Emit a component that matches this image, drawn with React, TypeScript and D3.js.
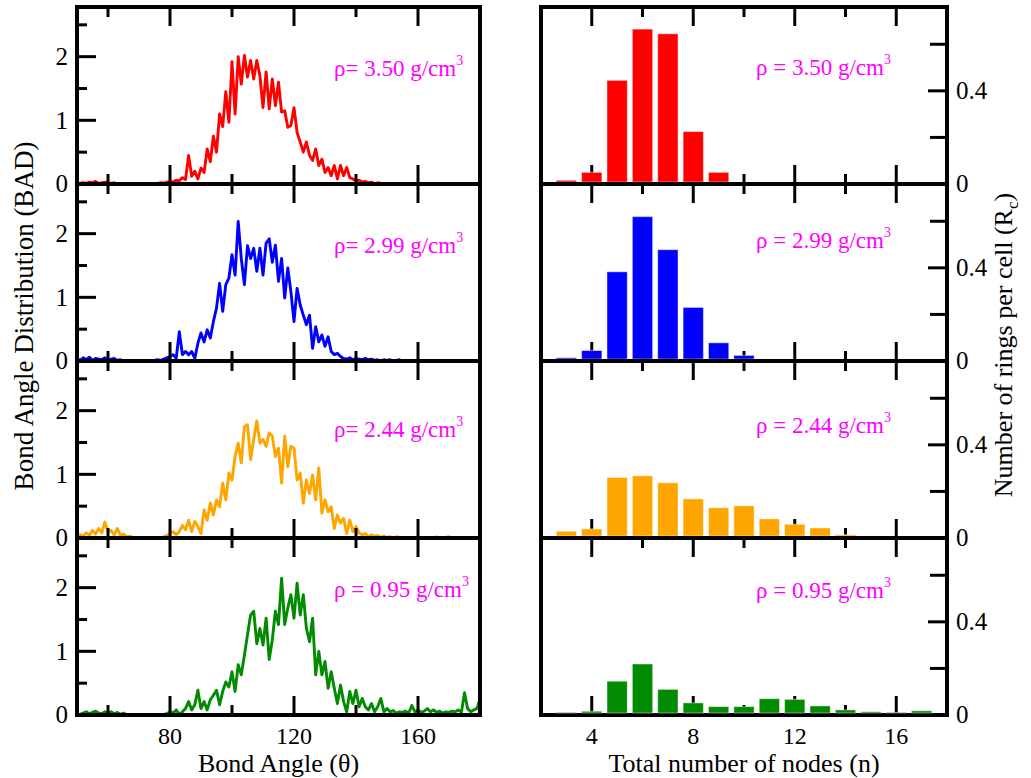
import React from "react";
import * as d3 from "d3";

// ---------- DATA ----------
const ANGLE_START = 50; // degrees, 1-degree step
const BAD_350 = [
  0, 0.01, 0.02, 0.01, 0.03, 0.02, 0.04, 0.01, 0.02, 0.03,
  0.02, 0.01, 0.02, 0, 0.01, 0, 0, 0, 0, 0,
  0, 0, 0, 0.01, 0, 0, 0.01, 0.02, 0.01, 0.03,
  0.04, 0.03, 0.06, 0.05, 0.1, 0.07, 0.45, 0.12, 0.2, 0.08,
  0.25, 0.18, 0.55, 0.35, 0.75, 0.5, 1.1, 0.9, 1.45, 0.97,
  1.92, 1.1, 2.0, 1.57, 2.02, 1.68, 1.94, 1.65, 1.94, 1.7,
  1.2, 1.76, 1.18, 1.65, 1.23, 1.6, 1.13, 1.15, 0.89, 0.92,
  1.2, 0.81, 0.66, 0.5, 0.66, 0.45, 0.37, 0.55, 0.29, 0.39,
  0.18, 0.26, 0.13, 0.29, 0.08, 0.29, 0.13, 0.26, 0.1, 0.08,
  0.05, 0.06, 0.03, 0.04, 0.02, 0.03, 0, 0.02, 0.01, 0,
  0.01, 0, 0.01, 0, 0, 0, 0, 0, 0, 0,
  0, 0, 0, 0, 0, 0, 0, 0, 0, 0,
  0, 0, 0, 0, 0, 0, 0, 0, 0, 0, 0,
];
const BAD_299 = [
  0.04, 0.01, 0.05, 0.02, 0.06, 0.01, 0.04, 0.03, 0.02, 0.05,
  0.01, 0.03, 0.04, 0.01, 0.02, 0, 0, 0.01, 0, 0,
  0, 0.01, 0, 0, 0, 0.01, 0.02, 0.01, 0.03, 0.05,
  0.07, 0.1, 0.04, 0.46, 0.1, 0.15, 0.1, 0.15, 0.04, 0.28,
  0.44, 0.3, 0.49, 0.36, 0.62, 0.83, 1.22, 0.78, 1.2, 1.3,
  1.67, 1.35, 2.19, 1.61, 1.2, 1.81, 1.61, 1.77, 1.41, 1.77,
  1.35, 1.85, 1.92, 1.55, 1.82, 1.25, 1.61, 0.99, 1.46, 1.09,
  0.62, 1.14, 0.88, 0.72, 0.57, 0.72, 0.2, 0.54, 0.3, 0.41,
  0.23, 0.38, 0.15, 0.1, 0.12, 0.07, 0.04, 0.03, 0.05, 0.02,
  0.04, 0.03, 0.02, 0.04, 0.02, 0.03, 0.01, 0.02, 0, 0.02,
  0.01, 0.02, 0, 0.01, 0.02, 0, 0, 0.01, 0, 0,
  0, 0, 0, 0, 0, 0, 0, 0, 0, 0,
  0, 0, 0, 0, 0, 0, 0, 0, 0, 0, 0,
];
const BAD_244 = [
  0.02, 0.05, 0.03, 0.08, 0.04, 0.12, 0.06, 0.15, 0.08, 0.25,
  0.1, 0.12, 0.05, 0.15, 0.04, 0.06, 0.02, 0.03, 0.01, 0,
  0, 0, 0, 0.01, 0, 0, 0, 0, 0.02, 0.04,
  0.07, 0.1, 0.05, 0.1, 0.2, 0.13, 0.28, 0.1, 0.26, 0.18,
  0.07, 0.44, 0.28, 0.55, 0.36, 0.6, 0.49, 0.86, 0.6, 1.02,
  0.91, 1.28, 1.49, 1.18, 1.75, 1.78, 1.23, 1.55, 1.84, 1.49,
  1.55, 1.44, 1.65, 1.6, 1.28, 1.41, 0.86, 1.6, 1.12, 1.44,
  1.41, 0.91, 1.02, 0.55, 0.91, 0.7, 0.99, 0.6, 1.1, 0.39,
  0.6, 0.41, 0.49, 0.15, 0.36, 0.23, 0.31, 0.07, 0.28, 0.1,
  0.18, 0.08, 0.05, 0.07, 0.02, 0.05, 0.03, 0.04, 0.01, 0.03,
  0.01, 0.02, 0, 0.02, 0.01, 0, 0, 0, 0.01, 0,
  0, 0, 0, 0, 0, 0, 0.02, 0, 0, 0.01,
  0.02, 0, 0, 0, 0, 0, 0, 0, 0, 0, 0,
];
const BAD_095 = [
  0, 0.01, 0.03, 0.05, 0.02, 0.04, 0.06, 0.03, 0.02, 0.05,
  0.03, 0.05, 0.02, 0.04, 0.01, 0.03, 0, 0, 0, 0,
  0, 0, 0, 0, 0, 0, 0, 0, 0.01, 0.02,
  0.05, 0.03, 0.08, 0.01, 0.05, 0.1, 0.21, 0.08, 0.16, 0.39,
  0.1, 0.21, 0.08, 0.24, 0.31, 0.39, 0.16, 0.37, 0.52, 0.44,
  0.68, 0.37, 0.79, 0.63, 0.94, 1.26, 1.57, 1.63, 1.12, 1.36,
  1.1, 1.52, 0.87, 1.18, 1.63, 1.42, 2.15, 1.42, 1.68, 1.89,
  1.52, 2.07, 1.57, 1.89, 1.36, 1.15, 1.52, 0.63, 1.0, 0.63,
  0.84, 0.42, 0.68, 0.42, 0.18, 0.47, 0.21, 0.05, 0.37, 0.18,
  0.39, 0.13, 0.26, 0.13, 0.08, 0.18, 0.05, 0.13, 0.26, 0.05,
  0.1, 0.05, 0.07, 0.03, 0.05, 0.04, 0.06, 0.03, 0.15, 0.05,
  0.08, 0.04, 0.06, 0.1, 0.05, 0.08, 0.04, 0.06, 0.03, 0.05,
  0.04, 0.06, 0.05, 0.08, 0.04, 0.35, 0.1, 0.05, 0.08, 0.1, 0.25,
];

const NODES = [3, 4, 5, 6, 7, 8, 9, 10, 11, 12, 13, 14, 15, 16, 17];
const RINGS_350 = [0.016, 0.05, 0.445, 0.665, 0.645, 0.225, 0.05, 0, 0, 0, 0, 0, 0, 0, 0];
const RINGS_299 = [0.014, 0.045, 0.383, 0.62, 0.478, 0.23, 0.078, 0.024, 0.006, 0.003, 0.002, 0.002, 0, 0, 0];
const RINGS_244 = [0.029, 0.039, 0.26, 0.267, 0.237, 0.168, 0.13, 0.138, 0.082, 0.059, 0.043, 0.014, 0.009, 0.004, 0.004];
const RINGS_095 = [0.011, 0.016, 0.145, 0.219, 0.11, 0.052, 0.036, 0.036, 0.07, 0.067, 0.039, 0.022, 0.014, 0.011, 0.018];

const DENSITIES = ["3.50", "2.99", "2.44", "0.95"];
const LEFT_LABEL_PREFIX = ["ρ= ", "ρ= ", "ρ= ", "ρ = "];
const COLORS = ["#ff0000", "#0000ff", "#ffa500", "#008b00"];

const BAD_SERIES = [BAD_350, BAD_299, BAD_244, BAD_095];
const RING_SERIES = [RINGS_350, RINGS_299, RINGS_244, RINGS_095];

const LEFT_Y_MAJOR = [0, 1, 2];
const LEFT_Y_MINOR = [0.5, 1.5, 2.5];
const LEFT_X_MAJOR = [80, 120, 160];
const LEFT_X_MINOR = [60, 100, 140];
const RIGHT_Y_MAJOR = [0, 0.4];
const RIGHT_Y_MINOR = [0.2, 0.6];
const RIGHT_X_MAJOR = [4, 8, 12, 16];
const RIGHT_X_MINOR = [6, 10, 14];

// ---------- LAYOUT ----------
const W = 1031;
const H = 778;
const TOP = 7;
const PH = 177;
const LX0 = 77, LX1 = 480, RX0 = 541, RX1 = 947;
const LEFT_LABEL_DY = [69, 69, 76, 59];
const RIGHT_LABEL_DY = [68, 64, 72, 60];
const FONT = "'Liberation Serif', 'Times New Roman', serif";
const MAJ = 19, MIN = 10;

export default function App() {
  const lx = d3.scaleLinear().domain([50, 180]).range([LX0, LX1]);
  const rx = d3.scaleLinear().domain([2, 18]).range([RX0, RX1]);

  const panels = BAD_SERIES.map((bad, i) => {
    const y0 = TOP + i * PH;
    const y1 = y0 + PH;
    const ly = d3.scaleLinear().domain([0, 2.78]).range([y1, y0]);
    const ry = d3.scaleLinear().domain([0, 0.76]).range([y1, y0]);
    const pts = bad.map((v, k) => [ANGLE_START + k, v] as [number, number]);
    const line = d3
      .line<[number, number]>()
      .x((d) => lx(d[0]))
      .y((d) => ly(d[1]));
    const rings = RING_SERIES[i];
    const color = COLORS[i];
    return (
      <g key={i}>
        <defs>
          <clipPath id={`clipL${i}`}>
            <rect x={LX0} y={y0} width={LX1 - LX0} height={PH} />
          </clipPath>
        </defs>
        {/* left: line */}
        <path
          d={line(pts) || ""}
          fill="none"
          stroke={color}
          strokeWidth={2.9}
          strokeLinejoin="round"
          clipPath={`url(#clipL${i})`}
        />
        {/* left ticks */}
        <g stroke="#000" strokeWidth={3}>
          {LEFT_X_MAJOR.map((t) => (
            <g key={"lxM" + t}>
              <line x1={lx(t)} x2={lx(t)} y1={y1} y2={y1 - MAJ} />
              <line x1={lx(t)} x2={lx(t)} y1={y0} y2={y0 + MAJ} />
            </g>
          ))}
          {LEFT_X_MINOR.map((t) => (
            <g key={"lxm" + t}>
              <line x1={lx(t)} x2={lx(t)} y1={y1} y2={y1 - MIN} />
              <line x1={lx(t)} x2={lx(t)} y1={y0} y2={y0 + MIN} />
            </g>
          ))}
          {LEFT_Y_MAJOR.map((t) => (
            <line key={"lyM" + t} x1={LX0} x2={LX0 + MAJ} y1={ly(t)} y2={ly(t)} />
          ))}
          {LEFT_Y_MINOR.map((t) => (
            <line key={"lym" + t} x1={LX0} x2={LX0 + MIN} y1={ly(t)} y2={ly(t)} />
          ))}
          {RIGHT_X_MAJOR.map((t) => (
            <g key={"rxM" + t}>
              <line x1={rx(t)} x2={rx(t)} y1={y1} y2={y1 - MAJ} />
              <line x1={rx(t)} x2={rx(t)} y1={y0} y2={y0 + MAJ} />
            </g>
          ))}
          {RIGHT_X_MINOR.map((t) => (
            <g key={"rxm" + t}>
              <line x1={rx(t)} x2={rx(t)} y1={y1} y2={y1 - MIN} />
              <line x1={rx(t)} x2={rx(t)} y1={y0} y2={y0 + MIN} />
            </g>
          ))}
          {RIGHT_Y_MAJOR.map((t) => (
            <line key={"ryM" + t} x1={RX1} x2={RX1 - MAJ} y1={ry(t)} y2={ry(t)} />
          ))}
          {RIGHT_Y_MINOR.map((t) => (
            <line key={"rym" + t} x1={RX1} x2={RX1 - 17} y1={ry(t)} y2={ry(t)} />
          ))}
        </g>
        {/* frames */}
        <rect x={LX0} y={y0} width={LX1 - LX0} height={PH} fill="none" stroke="#000" strokeWidth={4} />
        <rect x={RX0} y={y0} width={RX1 - RX0} height={PH} fill="none" stroke="#000" strokeWidth={4} />
        {/* right: bars (drawn over the frame's inner half like the reference) */}
        {NODES.map((n, k) =>
          rings[k] > 0 ? (
            <rect
              key={n}
              x={rx(n - 0.4)}
              y={ry(rings[k])}
              width={rx(n + 0.4) - rx(n - 0.4)}
              height={ry(0) - 2 - ry(rings[k]) > 0.5 ? ry(0) - 2 - ry(rings[k]) : 0.8}
              fill={color}
              stroke="rgba(255,255,255,0.45)"
              strokeWidth={1}
            />
          ) : null
        )}
        {/* tick labels */}
        {LEFT_Y_MAJOR.map((t) => (
          <text key={"lyl" + t} x={68} y={ly(t)} dy="0.33em" textAnchor="end" fontSize={25}>
            {d3.format("d")(t)}
          </text>
        ))}
        {RIGHT_Y_MAJOR.map((t) => (
          <text key={"ryl" + t} x={956} y={ry(t)} dy="0.33em" textAnchor="start" fontSize={25}>
            {t === 0 ? "0" : d3.format(".1f")(t)}
          </text>
        ))}
        {/* density labels */}
        <text x={334} y={y0 + LEFT_LABEL_DY[i]} fill="#ff00ff" fontSize={23}>
          {LEFT_LABEL_PREFIX[i] + DENSITIES[i] + " g/cm"}
          <tspan dy={-11} fontSize={14}>3</tspan>
        </text>
        <text x={756} y={y0 + RIGHT_LABEL_DY[i]} fill="#ff00ff" fontSize={23}>
          {"ρ = " + DENSITIES[i] + " g/cm"}
          <tspan dy={-11} fontSize={14}>3</tspan>
        </text>
      </g>
    );
  });

  const bottom = TOP + 4 * PH;

  return (
    <svg
      width={W}
      height={H}
      viewBox={`0 0 ${W} ${H}`}
      style={{ position: "absolute", left: 0, top: 0, background: "#fff" }}
      fontFamily={FONT}
    >
      <rect x={0} y={0} width={W} height={H} fill="#fff" />
      {panels}
      {LEFT_X_MAJOR.map((t) => (
        <text key={"lxl" + t} x={lx(t)} y={bottom + 29} textAnchor="middle" fontSize={24}>
          {t}
        </text>
      ))}
      {RIGHT_X_MAJOR.map((t) => (
        <text key={"rxl" + t} x={rx(t)} y={bottom + 29} textAnchor="middle" fontSize={24}>
          {t}
        </text>
      ))}
      <text x={(LX0 + LX1) / 2} y={772} textAnchor="middle" fontSize={26}>
        Bond Angle (θ)
      </text>
      <text x={(RX0 + RX1) / 2} y={772} textAnchor="middle" fontSize={26}>
        Total number of nodes (n)
      </text>
      <text transform="translate(33,316) rotate(-90)" textAnchor="middle" fontSize={27}>
        Bond Angle Distribution (BAD)
      </text>
      <text transform="translate(1012,345) rotate(-90)" textAnchor="middle" fontSize={26}>
        Number of rings per cell (R
        <tspan dy={6} fontSize={17}>c</tspan>
        <tspan dy={-6}>)</tspan>
      </text>
    </svg>
  );
}
